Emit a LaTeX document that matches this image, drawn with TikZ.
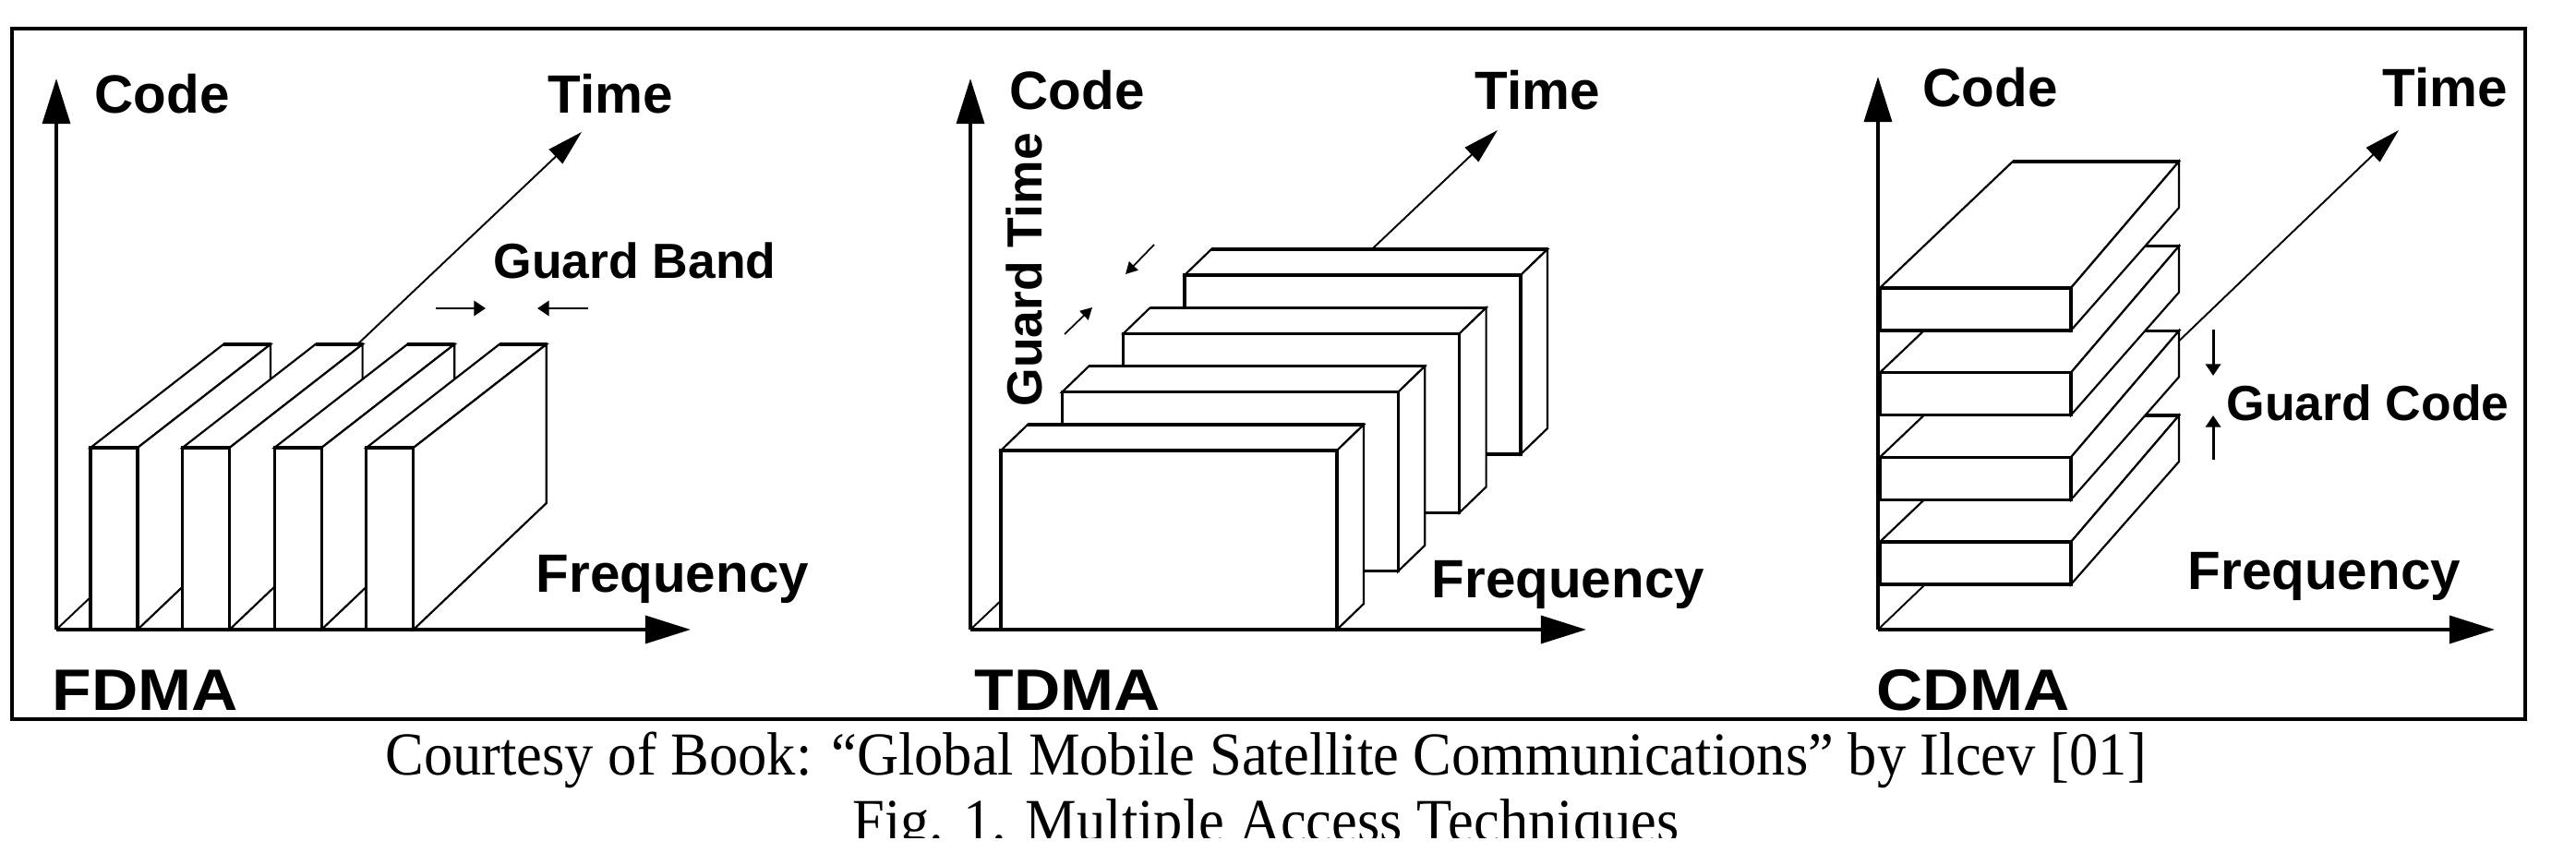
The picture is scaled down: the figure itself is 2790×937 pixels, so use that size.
\documentclass[tikz,border=0pt]{standalone}
\usepackage{fontspec}
\setmainfont{Liberation Serif}
\newfontfamily\labfont{Liberation Sans}
\usepackage{graphicx}
\usetikzlibrary{arrows.meta}

% x1 x2 fronttop frontbottom backx1 backx2 backtop backbottom
\newcommand{\mabox}[8]{%
  \filldraw[boxside] (#1,#3) -- (#2,#3) -- (#6,#7) -- (#5,#7) -- cycle;
  \filldraw[boxside] (#2,#3) -- (#6,#7) -- (#6,#8) -- (#2,#4) -- cycle;
  \draw[boxedge] (#5,#7) -- (#6,#7);
  \filldraw[boxfront] (#1,#3) rectangle (#2,#4);
}

\begin{document}
\begin{tikzpicture}[x=0.01cm,y=-0.01cm,
  boxside/.style={fill=white,draw=black,line width=0.62pt,line join=miter},
  boxedge/.style={draw=black,line width=0.95pt},
  boxfront/.style={fill=white,draw=black,line width=0.95pt},
  axisarrow/.style={line width=1.15pt,-{Triangle[length=14pt,width=8.5pt]}},
  timearrow/.style={line width=0.55pt,-{Triangle[length=11pt,width=6pt]}},
  guardarrow/.style={line width=0.85pt,-{Triangle[length=3.6pt,width=4.6pt]}},
  thinguard/.style={line width=0.5pt,-{Triangle[length=3.6pt,width=3.8pt]}},
  lbl/.style={font=\labfont\bfseries\fontsize{16.6pt}{19pt}\selectfont,inner sep=0pt,anchor=base west},
  glbl/.style={font=\labfont\bfseries\fontsize{15.2pt}{17pt}\selectfont,inner sep=0pt,anchor=base west},
  ttl/.style={font=\labfont\bfseries\fontsize{18pt}{20pt}\selectfont,inner sep=0pt,anchor=base west},
  captxt/.style={font=\fontsize{18.8pt}{22pt}\selectfont,inner sep=0pt,anchor=base}
]
\useasboundingbox (0,0) rectangle (2790,937);
\draw[line width=1pt] (13,31) rectangle (2735,779);

% ---------------- FDMA ----------------
\coordinate (O1) at (61,682);
\coordinate (C1) at (61,85);
\coordinate (F1) at (748,682);
\coordinate (T1) at (630,143);
\draw[timearrow] (O1) -- (T1);
\foreach \k in {0,...,3}{
  \pgfmathsetmacro\xa{98+99.6*\k}
  \pgfmathsetmacro\xb{\xa+51}
  \mabox{\xa}{\xb}{485}{682}{\xa+144}{\xb+144}{373}{545}
}
\draw[axisarrow] (O1) -- (C1);
\draw[axisarrow] (O1) -- (F1);
\coordinate (gb1s) at (472,334);
\coordinate (gb1e) at (526,334);
\coordinate (gb2s) at (637,334);
\coordinate (gb2e) at (582,334);
\draw[guardarrow] (gb1s) -- (gb1e);
\draw[guardarrow] (gb2s) -- (gb2e);
\node[lbl] (code1) at (102,123) {Code};
\node[lbl] (time1) at (593,123) {Time};
\node[glbl] (gband) at (534,302) {Guard Band};
\node[lbl] (freq1) at (580,642) {Frequency};
\node[ttl] (fdma) at (56,769) {\scalebox{1.1}[1]{FDMA}};

% ---------------- TDMA ----------------
\coordinate (O2) at (1051,682);
\coordinate (C2) at (1051,85);
\coordinate (F2) at (1718,682);
\coordinate (T2) at (1622,141);
\draw[timearrow] (O2) -- (T2);
\foreach \k in {3,2,1,0}{
  \pgfmathsetmacro\xa{1084+66.3*\k}
  \pgfmathsetmacro\xb{\xa+364}
  \pgfmathsetmacro\ya{488-63.3*\k}
  \pgfmathsetmacro\yb{\ya+194}
  \mabox{\xa}{\xb}{\ya}{\yb}{\xa+29}{\xb+29}{\ya-28}{\yb-28}
}
\draw[axisarrow] (O2) -- (C2);
\draw[axisarrow] (O2) -- (F2);
\coordinate (gt1s) at (1250,265);
\coordinate (gt1e) at (1219,297);
\coordinate (gt2s) at (1153,362);
\coordinate (gt2e) at (1183,333);
\draw[thinguard] (gt1s) -- (gt1e);
\draw[thinguard] (gt2s) -- (gt2e);
\node[lbl] (code2) at (1093,119) {Code};
\node[lbl] (time2) at (1597,119) {Time};
\node[glbl,rotate=90] (gtime) at (1128,441) {Guard Time};
\node[lbl] (freq2) at (1550,647) {Frequency};
\node[ttl] (tdma) at (1055,769) {\scalebox{1.1}[1]{TDMA}};

% ---------------- CDMA ----------------
\coordinate (O3) at (2034,682);
\coordinate (C3) at (2034,83);
\coordinate (F3) at (2702,682);
\coordinate (T3) at (2598,141);
\draw[timearrow] (O3) -- (T3);
\foreach \k in {0,...,3}{
  \pgfmathsetmacro\ya{587-91.7*\k}
  \pgfmathsetmacro\yb{\ya+46}
  \mabox{2036}{2243}{\ya}{\yb}{2180}{2360}{\ya-137}{\yb-133}
}
\draw[axisarrow] (O3) -- (C3);
\draw[axisarrow] (O3) -- (F3);
\coordinate (gc1s) at (2397,357);
\coordinate (gc1e) at (2397,407);
\coordinate (gc2s) at (2397,498);
\coordinate (gc2e) at (2397,450);
\draw[guardarrow] (gc1s) -- (gc1e);
\draw[guardarrow] (gc2s) -- (gc2e);
\node[lbl] (code3) at (2082,116) {Code};
\node[lbl] (time3) at (2580,116) {Time};
\node[glbl] (gcode) at (2411,456) {Guard Code};
\node[lbl] (freq3) at (2369,639) {Frequency};
\node[ttl] (cdma) at (2032,769) {\scalebox{1.1}[1]{CDMA}};

% ---------------- caption ----------------
\node[captxt] (cap1) at (1371,839) {\scalebox{0.946}[1]{Courtesy of Book: “Global Mobile Satellite Communications” by Ilcev [01]}};
\begin{scope}
\clip (0,0) rectangle (2790,907);
\node[captxt] (cap2) at (1371,911) {\scalebox{0.946}[1]{Fig. 1. Multiple Access Techniques}};
\end{scope}
\end{tikzpicture}
\end{document}
